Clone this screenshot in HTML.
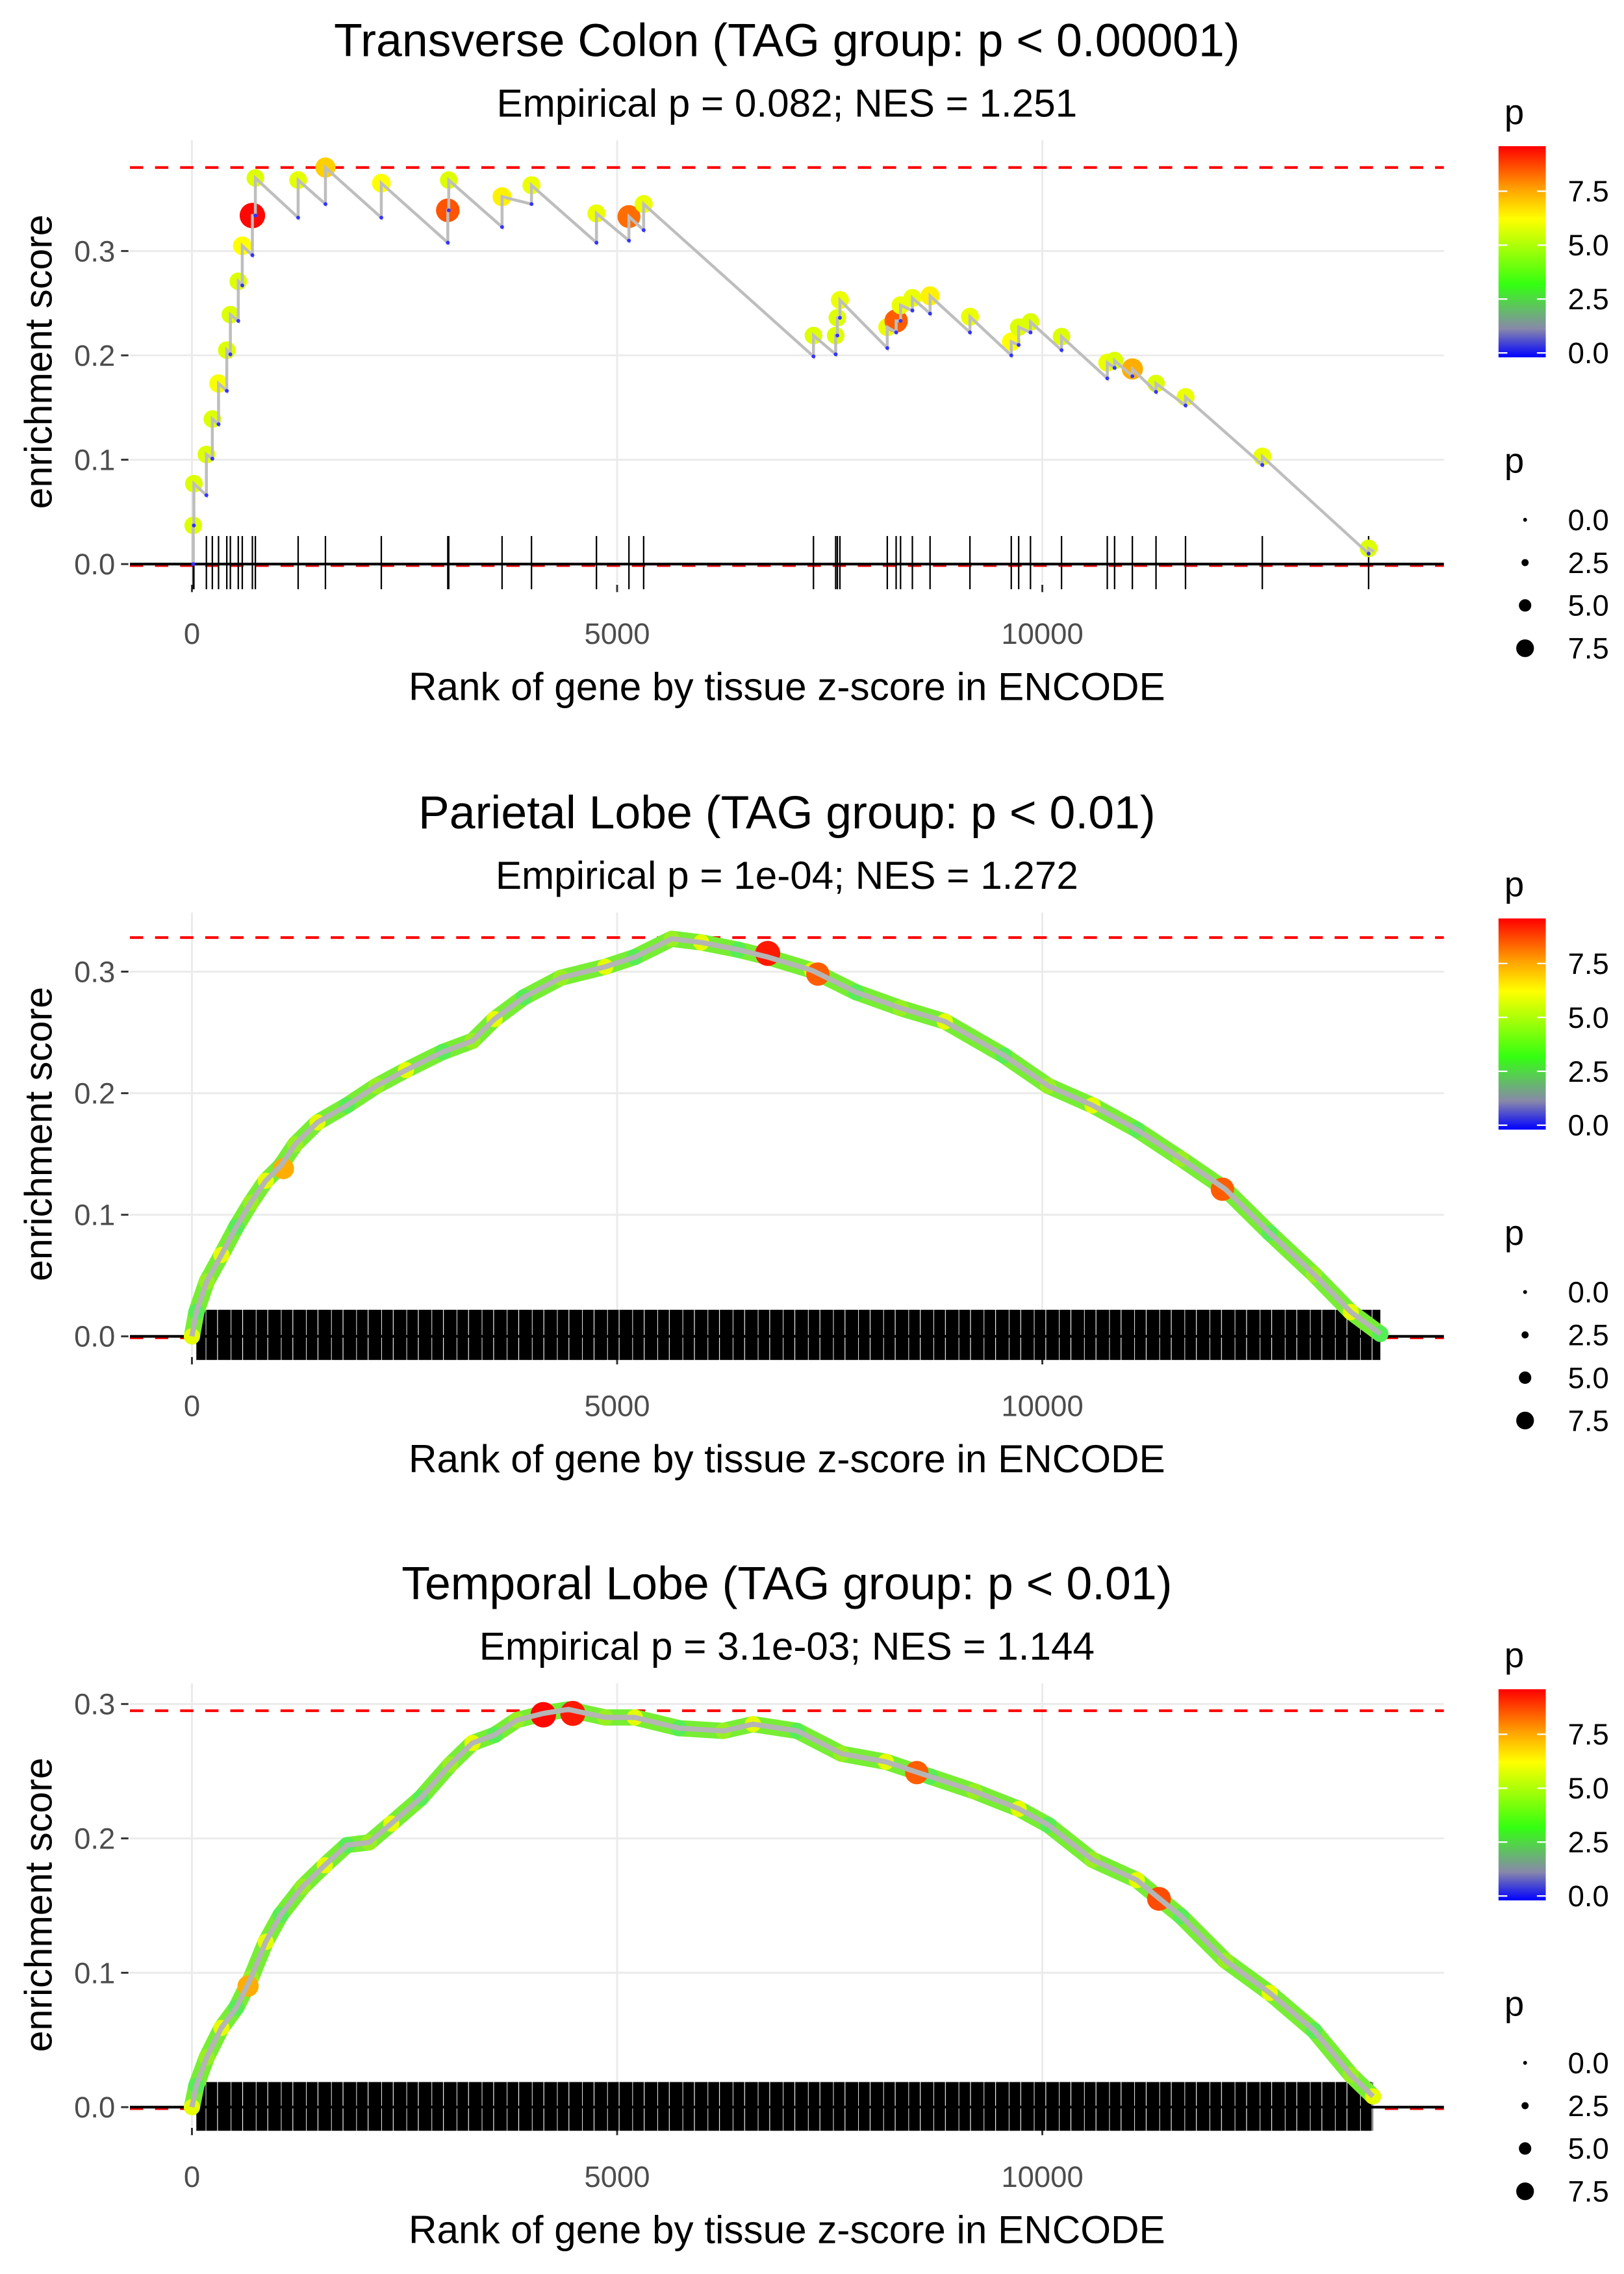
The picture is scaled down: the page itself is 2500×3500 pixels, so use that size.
<!DOCTYPE html>
<html><head><meta charset="utf-8"><style>
html,body{margin:0;padding:0;background:#fff}
svg{display:block}
text{font-family:"Liberation Sans",sans-serif}
</style></head><body>
<svg id="chart" width="2500" height="3500" viewBox="0 0 1100 1540" xmlns="http://www.w3.org/2000/svg">
<defs>
<pattern id="rugpat" patternUnits="userSpaceOnUse" width="17" height="40">
<rect width="17" height="40" fill="#000"/>
<rect x="3.3" width="0.4" height="40" fill="#fff"/>
<rect x="11.1" width="0.5" height="40" fill="#fff"/>
</pattern>
<linearGradient id="cbar" x1="0" y1="1" x2="0" y2="0">
<stop offset="0" stop-color="#0000ff"/>
<stop offset="0.135" stop-color="#8888aa"/>
<stop offset="0.344" stop-color="#33ff11"/>
<stop offset="0.656" stop-color="#ffff00"/>
<stop offset="0.8" stop-color="#ffa000"/>
<stop offset="1" stop-color="#ff0000"/>
</linearGradient>
</defs>
</svg>
<script>
// ---------- Panel 1 data (Transverse Colon) ----------
const p1HitRank = [15,23,170,240,313,410,452,545,592,711,746,1249,1570,2227,3009,3020,3647,3993,4757,5139,5312,7309,7570,7590,7620,8177,8281,8333,8472,8680,9149,9635,9722,9861,10226,10764,10850,11059,11337,11684,12587,13837];
const p1HitLow  = [0,0.037,0.066,0.101,0.134,0.166,0.201,0.233,0.267,0.296,0.334,0.332,0.345,0.332,0.308,0.339,0.323,0.345,0.308,0.31,0.32,0.199,0.201,0.219,0.236,0.207,0.222,0.233,0.243,0.24,0.222,0.2,0.21,0.222,0.205,0.178,0.188,0.18,0.165,0.152,0.095,0.01];
const p1HitHigh = [0.037,0.077,0.105,0.139,0.173,0.205,0.239,0.271,0.305,0.334,0.37,0.368,0.38,0.365,0.339,0.368,0.352,0.363,0.336,0.333,0.345,0.219,0.219,0.236,0.253,0.227,0.233,0.248,0.255,0.257,0.237,0.213,0.227,0.232,0.218,0.193,0.195,0.187,0.173,0.16,0.103,0.015];
const p1HitP    = [5.8,5.8,5.8,5.8,6.2,5.8,5.8,5.8,6.3,9.5,5.8,5.9,7,6.3,8.6,5.8,6.5,6,6,8.3,6,5.8,5.8,5.8,6,6,8.5,6,6,6.5,6,6.3,5.8,5.8,5.8,6,5.8,7.5,5.8,6,6,5.8];
const p1EndRank = 13900, p1EndES = 0.012, p1MaxES = 0.38;

// ---------- Panel 2 data (Parietal Lobe) ----------
const p2Rank = [0,52,174,347,521,694,868,1042,1215,1476,1823,2170,2517,2951,3299,3559,3906,4340,4861,5208,5642,5990,6424,6771,7292,7812,8333,8854,9549,10069,10590,11111,11632,12153,12674,13194,13628,13975];
const p2ES   = [0,0.02,0.045,0.067,0.09,0.11,0.128,0.14,0.158,0.176,0.19,0.206,0.219,0.234,0.243,0.261,0.279,0.295,0.304,0.312,0.327,0.324,0.318,0.312,0.301,0.283,0.27,0.259,0.231,0.206,0.19,0.17,0.146,0.121,0.085,0.051,0.02,0.002];
const p2BigRank = [1076,6771,7361,12118];
const p2BigES   = [0.138,0.315,0.298,0.121];
const p2BigP    = [7.5,9.3,8.5,8.5];
const p2MaxES = 0.328;

// ---------- Panel 3 data (Temporal Lobe) ----------
const p3Rank = [0,52,174,347,521,694,868,1042,1302,1562,1823,2083,2344,2691,3038,3299,3559,3819,4132,4427,4861,5208,5729,6250,6597,7118,7639,8160,8681,9201,9722,10069,10590,11111,11632,12153,12674,13194,13628,13889];
const p3ES   = [0,0.016,0.037,0.059,0.074,0.096,0.123,0.143,0.164,0.18,0.195,0.197,0.211,0.23,0.255,0.271,0.277,0.288,0.293,0.296,0.29,0.29,0.282,0.28,0.285,0.28,0.263,0.257,0.246,0.235,0.222,0.21,0.184,0.169,0.142,0.109,0.085,0.057,0.024,0.008];
const p3BigRank = [660,4132,4479,8524,11372];
const p3BigES   = [0.09,0.292,0.293,0.249,0.155];
const p3BigP    = [7.5,9.5,9.3,8.5,8.7];
const p3MaxES = 0.295;

const xTicks = [0,5000,10000];
const yTicks = [0,0.1,0.2,0.3];
const legendColorTicks = [0,2.5,5,7.5];
const legendSizeTicks = [0,2.5,5,7.5];

const titles = ["Transverse Colon (TAG group: p < 0.00001)","Parietal Lobe (TAG group: p < 0.01)","Temporal Lobe (TAG group: p < 0.01)"];
const subtitles = ["Empirical p = 0.082; NES = 1.251","Empirical p = 1e-04; NES = 1.272","Empirical p = 3.1e-03; NES = 1.144"];

const svg = document.getElementById('chart');
const NS = 'http://www.w3.org/2000/svg';
function mk(tag, attrs, parent){const e=document.createElementNS(NS,tag);for(const k in attrs)e.setAttribute(k,attrs[k]);(parent||svg).appendChild(e);return e;}
function X(r){return 130 + r*0.0576;}
function col(p){
  const st=[[0,[0,0,255]],[1.3,[136,136,170]],[3.3,[51,255,17]],[6.3,[255,255,0]],[7.7,[255,160,0]],[9.6,[255,0,0]]];
  if(p<=0)return 'rgb(0,0,255)';
  for(let i=1;i<st.length;i++){if(p<=st[i][0]){const a=st[i-1],b=st[i],t=(p-a[0])/(b[0]-a[0]);
    const c=a[1].map((v,j)=>Math.round(v+(b[1][j]-v)*t));return `rgb(${c})`;}}
  return 'rgb(255,0,0)';
}
function rad(p){return 1.8+0.72*p;}

const panels=[
 {top:95,bot:395,zero:382,sc:706.7,rug:[363,399],off:0},
 {top:618,bot:918,zero:905,sc:823.3,rug:[887,921],off:523},
 {top:1140,bot:1440,zero:1427,sc:910,rug:[1410,1443],off:1045}
];

panels.forEach((P,i)=>{
  const g=mk('g',{});
  
  
  const Y=v=>P.zero - v*P.sc;
  yTicks.forEach(t=>{const l=mk('line',{x1:88,x2:978,y1:Y(t),y2:Y(t),stroke:'#ebebeb','stroke-width':1.3},g);
    
    const tk=mk('line',{x1:82,x2:87,y1:Y(t),y2:Y(t),stroke:'#333','stroke-width':1.3},g);
    
    const tx=mk('text',{x:78,y:Y(t)+7,'text-anchor':'end','font-size':20,fill:'#4d4d4d'},g);tx.textContent=t.toFixed(1);
    });
  xTicks.forEach(t=>{const l=mk('line',{x1:X(t),x2:X(t),y1:P.top,y2:P.bot,stroke:'#ebebeb','stroke-width':1.3},g);
    
    const tk=mk('line',{x1:X(t),x2:X(t),y1:P.bot+1,y2:P.bot+6,stroke:'#333','stroke-width':1.3},g);
    
    const tx=mk('text',{x:X(t),y:P.bot+41,'text-anchor':'middle','font-size':20,fill:'#4d4d4d'},g);tx.textContent=t;
    });
  const maxES=[p1MaxES,p2MaxES,p3MaxES][i];
  [maxES,0].forEach((v,k)=>{const l=mk('line',{x1:88,x2:978,y1:Y(v)+(k?1:0),y2:Y(v)+(k?1:0),stroke:'#ff0000','stroke-width':1.8,'stroke-dasharray':'9,8'},g);
    });
  if(i===0){
    p1HitRank.forEach(r=>{const l=mk('line',{x1:X(r),x2:X(r),y1:P.rug[0],y2:P.rug[1],stroke:'#000','stroke-width':1},g);
      });
  } else {
    const rk=i===1?p2Rank:p3Rank;
    const r=mk('rect',{x:X(rk[1]),y:P.rug[0],width:X(rk[rk.length-1])-X(rk[1]),height:P.rug[1]-P.rug[0],fill:'url(#rugpat)'},g);
    
  }
  const h=mk('line',{x1:88,x2:978,y1:Y(0),y2:Y(0),stroke:'#000','stroke-width':1.8},g);
  
  if(i===0){
    let d=`M${X(0)},${Y(0)}`;
    p1HitRank.forEach((r,k)=>{d+=` L${X(r)},${Y(p1HitLow[k])} L${X(r)},${Y(p1HitHigh[k])}`;});
    d+=` L${X(p1EndRank)},${Y(p1EndES)}`;
    p1HitRank.forEach((r,k)=>{const c=mk('circle',{cx:X(r),cy:Y(p1HitHigh[k]),r:rad(p1HitP[k]),fill:col(p1HitP[k])},g);
      });
    const pa=mk('path',{d:d,fill:'none',stroke:'#bebebe','stroke-width':2},g);
    
    p1HitRank.forEach((r,k)=>{const c=mk('circle',{cx:X(r),cy:Y(p1HitLow[k]),r:1.3,fill:'#3333ff'},g);
      });
  } else {
    const rk=i===1?p2Rank:p3Rank, es=i===1?p2ES:p3ES;
    const d=rk.map((r,k)=>(k?'L':'M')+X(r)+','+Y(es[k])).join(' ');
    const b1=mk('path',{d:d,fill:'none',stroke:'#77ee33','stroke-width':11,'stroke-linejoin':'round','stroke-linecap':'round'},g);
    
    rk.forEach((r,k)=>{const c=mk('circle',{cx:X(r),cy:Y(es[k]),r:5.5,fill:k%3===0?'#e6ff00':(k%3===1?'#55ee55':'#99f020')},g);
      });
    const br=i===1?p2BigRank:p3BigRank, be=i===1?p2BigES:p3BigES, bp=i===1?p2BigP:p3BigP;
    br.forEach((r,k)=>{const c=mk('circle',{cx:X(r),cy:Y(be[k]),r:rad(bp[k]),fill:col(bp[k])},g);
      });
    const b2=mk('path',{d:d,fill:'none',stroke:'#b5b5b5','stroke-width':3.5,'stroke-linejoin':'round'},g);
    
  }
  const t=mk('text',{x:533,y:38+P.off,'text-anchor':'middle','font-size':31.5},g);t.textContent=titles[i];
  
  const s=mk('text',{x:533,y:79+P.off,'text-anchor':'middle','font-size':26.5},g);s.textContent=subtitles[i];
  
  const xt=mk('text',{x:533,y:474+P.off,'text-anchor':'middle','font-size':26.5},g);xt.textContent='Rank of gene by tissue z-score in ENCODE';
  
  const cy=(P.top+P.bot)/2;
  const yt=mk('text',{x:35,y:cy,'text-anchor':'middle','font-size':26,transform:`rotate(-90 35 ${cy})`},g);yt.textContent='enrichment score';
  
  const lt=mk('text',{x:1019,y:84+P.off,'font-size':24},g);lt.textContent='p';
  
  const cb=mk('rect',{x:1015,y:99+P.off,width:32,height:143,fill:'url(#cbar)'},g);
  
  legendColorTicks.forEach(v=>{const yy=239+P.off-v*14.6;
    [[1015,1021],[1041,1047]].forEach(xx=>{const l=mk('line',{x1:xx[0],x2:xx[1],y1:yy,y2:yy,stroke:'#fff','stroke-width':1},g);
      });
    const tx=mk('text',{x:1062,y:yy+7,'font-size':20},g);tx.textContent=v.toFixed(1);
    });
  const st=mk('text',{x:1019,y:320+P.off,'font-size':24},g);st.textContent='p';
  
  legendSizeTicks.forEach((v,k)=>{const yy=352+P.off+k*29;
    const c=mk('circle',{cx:1033,cy:yy,r:Math.max(1.3,rad(v)-1.2),fill:'#000'},g);
    
    const tx=mk('text',{x:1062,y:yy+7,'font-size':20},g);tx.textContent=v.toFixed(1);
    });
});
</script>
</body></html>
